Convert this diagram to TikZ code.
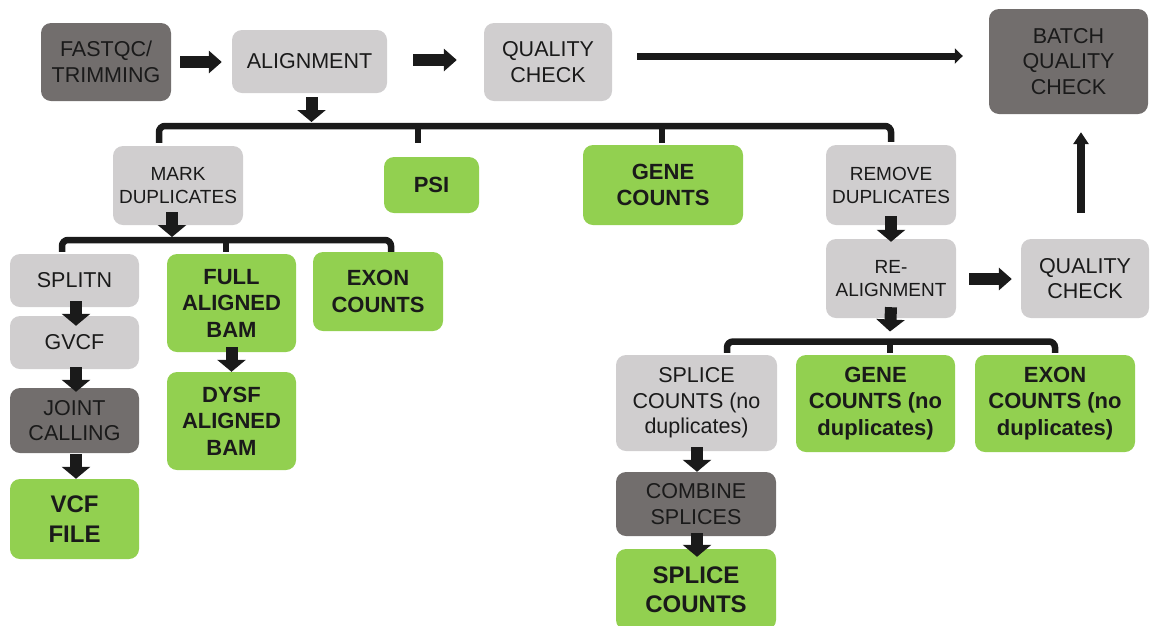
\documentclass[tikz,border=0pt]{standalone}
\usepackage{fontspec}
\setmainfont{Liberation Sans}
\usetikzlibrary{arrows.meta,calc}
\definecolor{lg}{HTML}{D0CECF}
\definecolor{dg}{HTML}{726E6D}
\definecolor{gr}{HTML}{92D050}
\definecolor{ink}{HTML}{1A1A1A}
\tikzset{
  pbox/.style={rounded corners=10pt, inner sep=0pt, align=center, text=ink},
  sz/.style 2 args={minimum width=#1pt, minimum height=#2pt},
  lbox/.style={pbox, fill=lg, font=\fontsize{21.5}{25.5}\selectfont},
  dbox/.style={pbox, fill=dg, font=\fontsize{21.5}{25.5}\selectfont},
  gbox/.style={pbox, fill=gr, font=\bfseries\fontsize{22}{26.5}\selectfont},
  smtext/.style={font=\fontsize{19}{23}\selectfont},
  bigtext/.style={font=\bfseries\fontsize{24}{29.5}\selectfont},
  varrow/.style={draw=ink, line width=12pt, -{Triangle[width=28pt,length=12pt]}},
  harrow/.style={draw=ink, line width=12pt, -{Triangle[width=22pt,length=13pt]}},
  tarrow/.style={draw=ink, line width=7pt, -{Triangle[width=15pt,length=8pt]}},
  uarrow/.style={draw=ink, line width=8pt, -{Triangle[width=15pt,length=12pt]}},
  bracket/.style={draw=ink, line width=6.5pt, rounded corners=6pt},
  tick/.style={draw=ink, line width=6.5pt}
}
\begin{document}
\begin{tikzpicture}[x=1pt,y=-1pt]
\useasboundingbox (0,0) rectangle (1150,625);
\clip (0,0) rectangle (1150,625);

% top row
\node[dbox, sz={130}{78}] (fastqc) at (106,62) {FASTQC/\\TRIMMING};
\node[lbox, sz={155}{63}] (align) at (309.5,61.5) {ALIGNMENT};
\node[lbox, sz={128}{78}] (qc1) at (548,62) {QUALITY\\CHECK};
\node[dbox, sz={159}{105}] (batch) at (1068.5,61.5) {BATCH\\QUALITY\\CHECK};

% second row
\node[lbox, smtext, sz={130}{79}] (markdup) at (178,185.5) {MARK\\DUPLICATES};
\node[gbox, sz={95}{56}] (psi) at (431.5,185) {PSI};
\node[gbox, sz={160}{80}] (gene) at (663,185) {GENE\\COUNTS};
\node[lbox, smtext, sz={130}{80}] (remdup) at (891,185) {REMOVE\\DUPLICATES};

% left branch
\node[lbox, sz={129}{53}] (splitn) at (74.5,280.5) {SPLITN};
\node[lbox, sz={129}{53}] (gvcf) at (74.5,342.5) {GVCF};
\node[dbox, sz={129}{65}] (joint) at (74.5,420.5) {JOINT\\CALLING};
\node[gbox, bigtext, sz={129}{80}] (vcf) at (74.5,519) {VCF\\FILE};
\node[gbox, sz={129}{98}] (full) at (231.5,303) {FULL\\ALIGNED\\BAM};
\node[gbox, sz={129}{98}] (dysf) at (231.5,421) {DYSF\\ALIGNED\\BAM};
\node[gbox, sz={130}{79}] (exon) at (378,291.5) {EXON\\COUNTS};

% right branch
\node[lbox, smtext, sz={130}{79}] (realign) at (891,278.5) {RE-\\ALIGNMENT};
\node[lbox, sz={128}{79}] (qc2) at (1085,278.5) {QUALITY\\CHECK};
\node[lbox, sz={161}{96}] (splicend) at (696.5,403) {SPLICE\\COUNTS (no\\duplicates)};
\node[gbox, sz={159}{97}] (genend) at (875.5,403.5) {GENE\\COUNTS (no\\duplicates)};
\node[gbox, sz={160}{97}] (exonnd) at (1055,403.5) {EXON\\COUNTS (no\\duplicates)};
\node[dbox, sz={160}{64}] (combine) at (696,504) {COMBINE\\SPLICES};
\node[gbox, bigtext, sz={160}{81}] (splice) at (696,589.5) {SPLICE\\COUNTS};

% bracket junctions
\coordinate (b1) at (311.5,126);
\coordinate (b2) at (172,240);
\coordinate (b3) at (890,341.5);

% top row arrows
\draw[harrow] ($(fastqc.east)+(9,0)$) -- ($(align.west)+(-10,0.5)$);
\draw[harrow] ($(align.east)+(26,-1.5)$) -- ($(qc1.west)+(-27,-2)$);
\draw[tarrow] ($(qc1.east)+(25,-6)$) -- ($(batch.west)+(-26,-5.5)$);

% alignment -> bracket 1
\draw[varrow] ($(align.south)+(2,4)$) -- ($(b1)+(0,-4)$);
\draw[bracket] ($(markdup.north)+(-19,-3)$) |- (b1) -| ($(remdup.north)+(0,-3)$);
\coordinate (t1b) at ($(psi.north)+(-13.5,-14)$);
\coordinate (t1c) at ($(gene.north)+(-1,-2)$);
\draw[tick] (b1 -| t1b) -- (t1b);
\draw[tick] (b1 -| t1c) -- (t1c);

% mark duplicates -> bracket 2
\draw[varrow] ($(markdup.south)+(-6,-13)$) -- ($(b2)+(0,-3)$);
\draw[bracket] ($(splitn.north)+(-12.5,-2)$) |- (b2) -| ($(exon.north)+(13,0)$);
\coordinate (t2b) at ($(full.north)+(-5.5,-2)$);
\draw[tick] (b2 -| t2b) -- (t2b);

% left chains
\draw[varrow] ($(splitn.south)+(1.5,-6)$) -- ($(gvcf.north)+(1.5,10)$);
\draw[varrow] ($(gvcf.south)+(1.5,-2)$) -- ($(joint.north)+(1.5,4)$);
\draw[varrow] ($(joint.south)+(1.5,1)$) -- ($(vcf.north)+(1.5,0)$);
\draw[varrow] ($(full.south)+(0,-5)$) -- ($(dysf.north)+(0,0)$);

% right branch
\draw[varrow] ($(remdup.south)+(0,-9)$) -- ($(realign.north)+(0,3)$);
\draw[harrow] ($(realign.east)+(13,0.5)$) -- ($(qc2.west)+(-9,0.5)$);
\draw[uarrow] ($(qc2.north)+(-4,-26)$) -- ($(batch.south)+(12.5,18)$);
\draw[varrow] ($(realign.south)+(0,-11)$) -- ($(b3)+(0,-10)$);
\draw[bracket] ($(splicend.north)+(30.5,-2)$) |- (b3) -| ($(exonnd.north)+(0,-2)$);
\coordinate (t3b) at ($(genend.north)+(14.5,-2)$);
\draw[tick] (b3 -| t3b) -- (t3b);
\draw[varrow] ($(splicend.south)+(0.5,-4)$) -- ($(combine.north)+(1,0)$);
\draw[varrow] ($(combine.south)+(1,-3)$) -- ($(splice.north)+(1,8)$);
\end{tikzpicture}
\end{document}
